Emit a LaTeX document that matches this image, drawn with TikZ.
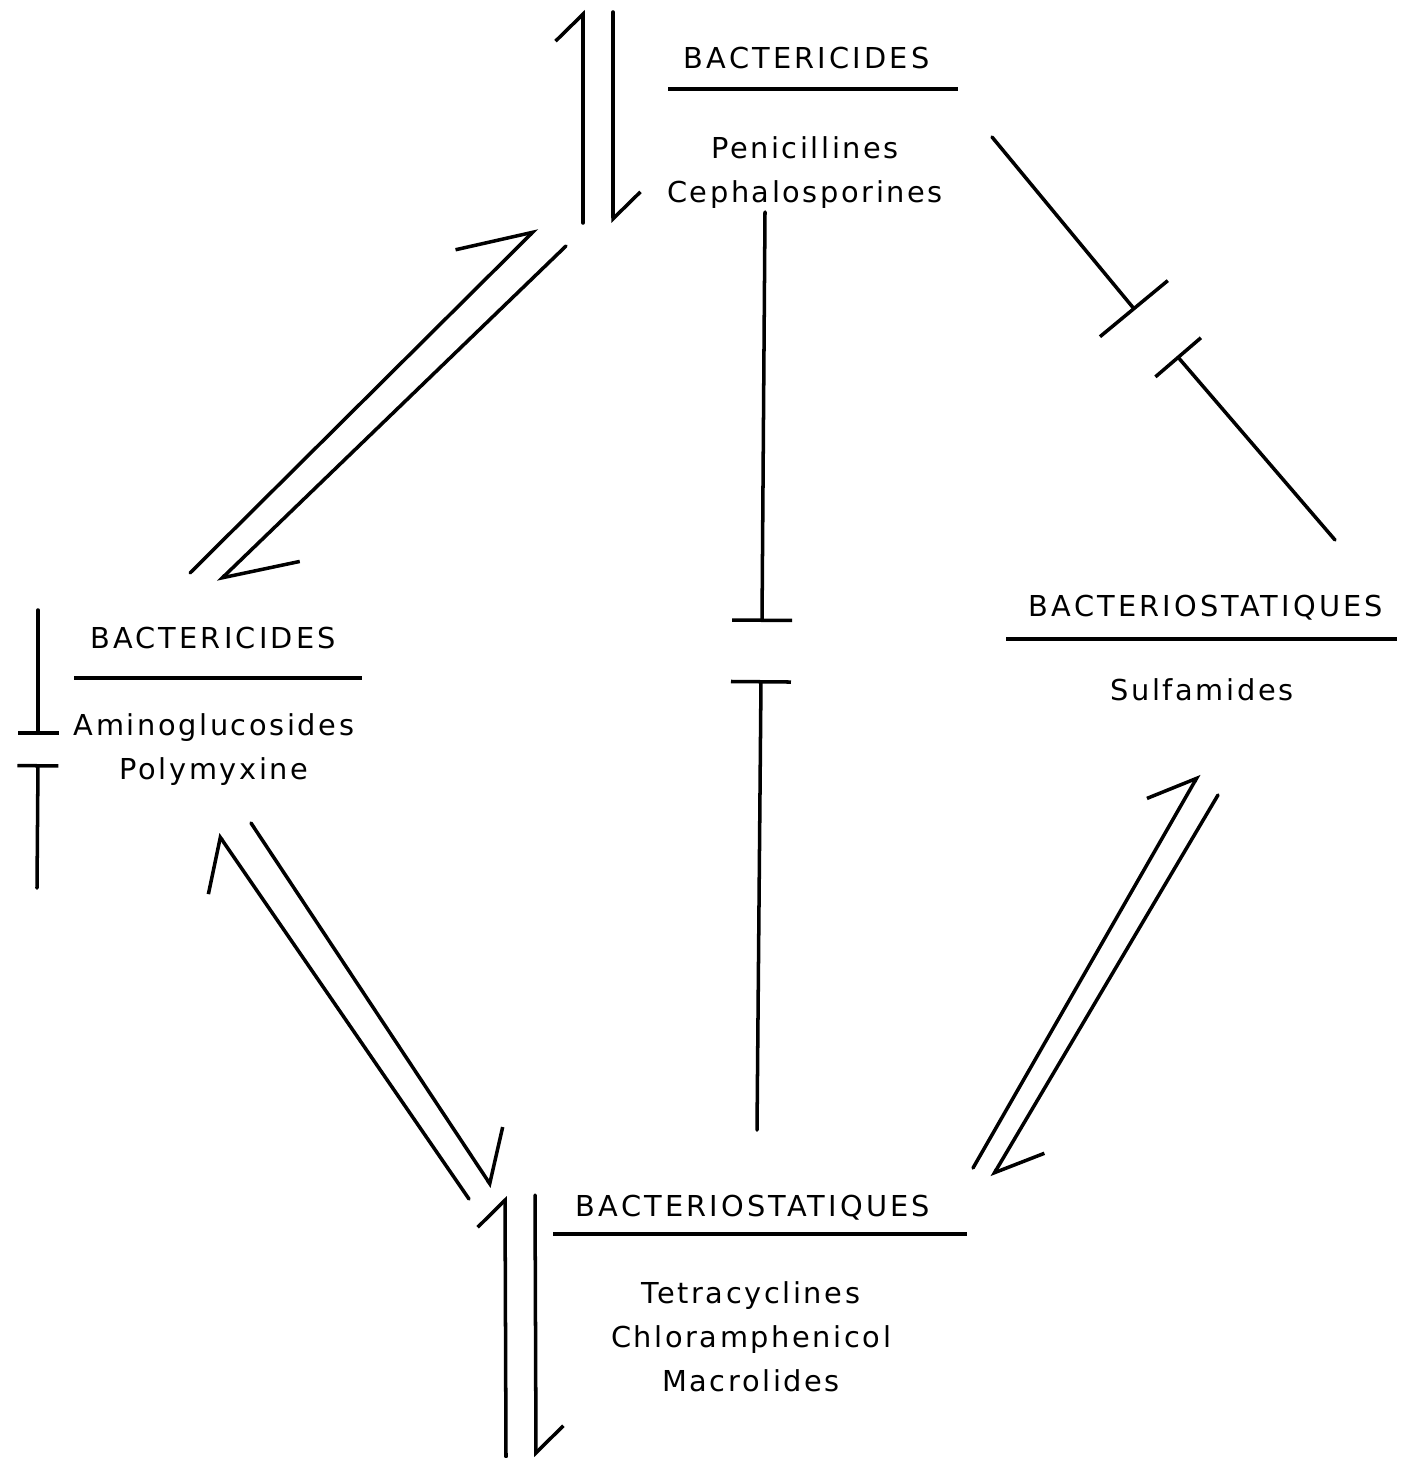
\documentclass[tikz,border=0pt]{standalone}
\usepackage{fontspec}
\newfontfamily\labelfont{DejaVu Sans}[LetterSpace=9]
\newfontfamily\headfont{DejaVu Sans}[LetterSpace=11]
\usetikzlibrary{arrows.meta,calc}

\begin{document}
\begin{tikzpicture}[
  title/.style={anchor=base, inner sep=0pt,
                font=\headfont\fontsize{8.2}{12.5}\selectfont},
  drug/.style={anchor=base, inner sep=0pt, align=center,
               font=\labelfont\fontsize{8.2}{12.5}\selectfont},
  rule/.style={line width=1.2pt},
  link/.style={line width=1pt, line cap=round},
  harp/.style 2 args={link, -{Straight Barb[harpoon, length=#1, width=#2]}},
  block/.style={link, -{Bar[width=#1]}}
]
\useasboundingbox (0,0) rectangle (14.11,-14.58);
\node[title] (tPen) at (8.065,-0.69) {BACTERICIDES};
\node[drug]  (dPen) at (8.05,-2.02) {Penicillines\\Cephalosporines};
\node[title] (tAmi) at (2.13,-6.48) {BACTERICIDES};
\node[drug]  (dAmi) at (2.14,-7.79) {Aminoglucosides\\Polymyxine};
\node[title] (tSul) at (12.06,-6.16) {BACTERIOSTATIQUES};
\node[drug]  (dSul) at (12.02,-7.00) {Sulfamides};
\node[title] (tTet) at (7.53,-12.16) {BACTERIOSTATIQUES};
\node[drug]  (dTet) at (7.51,-13.91) {Tetracyclines\\Chloramphenicol\\Macrolides};
% underlines
\draw[rule] ($(tPen.base)+(-1.385,-0.20)$) -- ++(2.90,0);
\draw[rule] ($(tAmi.base)+(-1.39,-0.30)$) -- ++(2.88,0);
\draw[rule] ($(tSul.base)+(-2.00,-0.23)$) -- ++(3.91,0);
\draw[rule] ($(tTet.base)+(-2.00,-0.18)$) -- ++(4.14,0);
% end points of the harpoons
\coordinate (vA0) at (5.83,-2.23);  \coordinate (vA1) at (5.83,-0.10);
\coordinate (vB0) at (6.13,-0.12);  \coordinate (vB1) at (6.13,-2.23);
\coordinate (dA0) at (1.90,-5.73);  \coordinate (dA1) at (5.37,-2.28);
\coordinate (dB0) at (5.66,-2.46);  \coordinate (dB1) at (2.18,-5.82);
\coordinate (lA0) at (4.69,-11.99); \coordinate (lA1) at (2.18,-8.34);
\coordinate (lB0) at (2.51,-8.23);  \coordinate (lB1) at (4.92,-11.87);
\coordinate (bA0) at (5.06,-14.57); \coordinate (bA1) at (5.05,-11.96);
\coordinate (bB0) at (5.35,-11.95); \coordinate (bB1) at (5.36,-14.57);
\coordinate (rA0) at (9.73,-11.68); \coordinate (rA1) at (11.99,-7.74);
\coordinate (rB0) at (12.18,-7.95); \coordinate (rB1) at (9.92,-11.77);
\draw[harp={2.7mm}{5.5mm}] (vA0) -- (vA1);
\draw[harp={2.7mm}{5.5mm}] (vB0) -- (vB1);
\draw[harp={6.7mm}{8.4mm}] (dA0) -- (dA1);
\draw[harp={6.7mm}{8.4mm}] (dB0) -- (dB1);
\draw[harp={4.0mm}{8.4mm}] (lA0) -- (lA1);
\draw[harp={4.0mm}{8.4mm}] (lB0) -- (lB1);
\draw[harp={2.7mm}{5.5mm}] (bA0) -- (bA1);
\draw[harp={2.7mm}{5.5mm}] (bB0) -- (bB1);
\draw[harp={4.2mm}{6.6mm}] (rA0) -- (rA1);
\draw[harp={4.2mm}{6.6mm}] (rB0) -- (rB1);
% antagonism lines
\coordinate (cT0) at (7.65,-2.12);  \coordinate (cT1) at (7.62,-6.22);
\coordinate (cB0) at (7.57,-11.30); \coordinate (cB1) at (7.61,-6.80);
\coordinate (sT0) at (0.38,-6.10);  \coordinate (sT1) at (0.38,-7.35);
\coordinate (sB0) at (0.37,-8.88);  \coordinate (sB1) at (0.38,-7.64);
\coordinate (eT0) at (9.92,-1.37);  \coordinate (eT1) at (11.35,-3.10);
\coordinate (eB0) at (13.35,-5.40); \coordinate (eB1) at (11.77,-3.56);
\draw[block=6mm] (cT0) -- (cT1);
\draw[block=6mm] (cB0) -- (cB1);
\draw[block=4.1mm] (sT0) -- (sT1);
\draw[block=4.1mm] (sB0) -- (sB1);
\draw[block=8.8mm] (eT0) -- (eT1);
\draw[block=6mm] (eB0) -- (eB1);
\end{tikzpicture}
\end{document}
